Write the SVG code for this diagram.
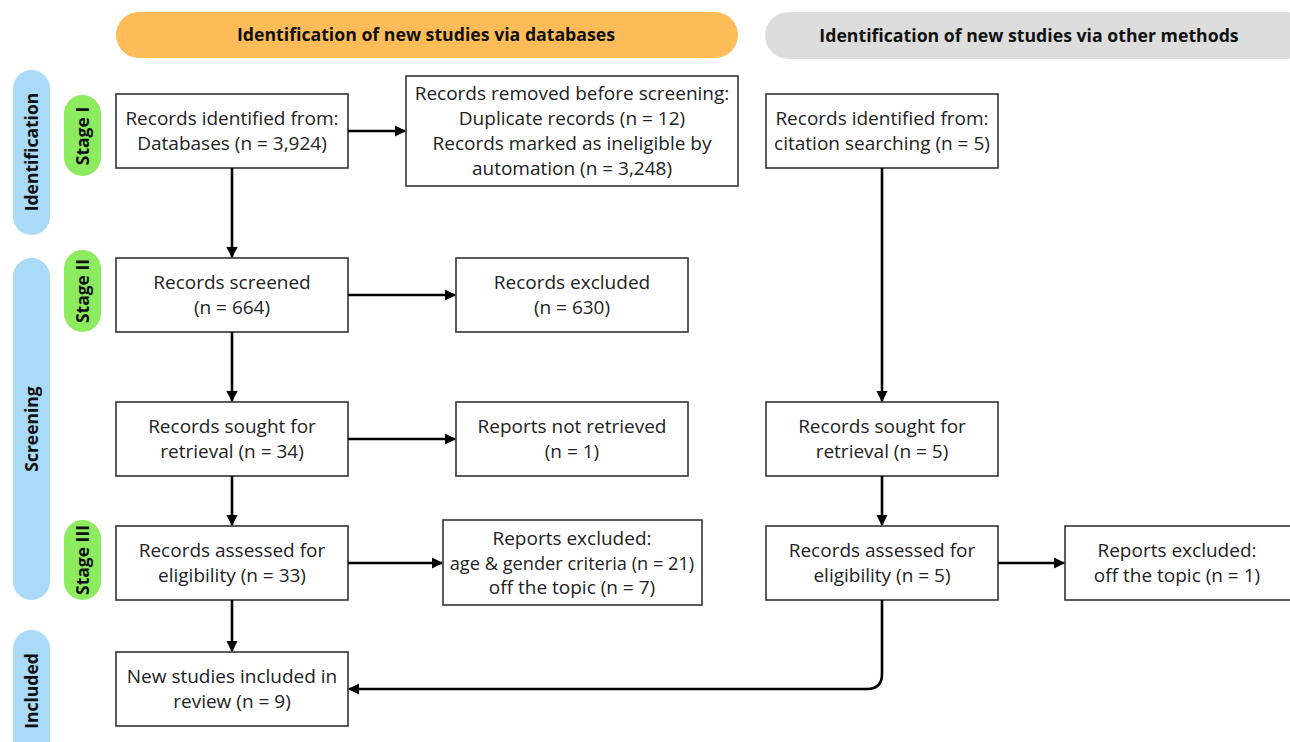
<svg xmlns="http://www.w3.org/2000/svg" width="1290" height="742" viewBox="0 0 1290 742">
<style>
.box{fill:#fff;stroke:#333;stroke-width:1.6}
.t{font-family:"Open Sans","Liberation Sans",sans-serif;font-size:19px;fill:#222;text-anchor:middle}
.h{font-family:"Open Sans","Liberation Sans",sans-serif;font-size:17.7px;font-weight:bold;fill:#111;text-anchor:middle}
.v{font-family:"Open Sans","Liberation Sans",sans-serif;font-size:17.5px;font-weight:bold;fill:#111;text-anchor:middle}
.c{fill:none;stroke:#000;stroke-width:2.6;marker-end:url(#ah)}
</style>
<defs>
<marker id="ah" viewBox="0 0 10 10" refX="9" refY="5" markerWidth="4.4" markerHeight="4.4" markerUnits="strokeWidth" orient="auto">
<path d="M0,0 L10,5 L0,10 z" fill="#000"/>
</marker>
</defs>
<rect width="1290" height="742" fill="#fff"/>
<g id="hdr-db"><rect x="116" y="12" width="622" height="46" rx="23" fill="#FDBC57"/><text class="h" x="426" y="41">Identification of new studies via databases</text></g>
<g id="hdr-other"><rect x="765" y="12" width="545" height="47" rx="23.5" fill="#DDDDDD"/><text class="h" x="1029" y="42">Identification of new studies via other methods</text></g>
<g id="phase-identification"><rect x="13" y="70" width="37" height="165" rx="18.5" fill="#A9DBF8"/><text class="v" transform="translate(38,152) rotate(-90)">Identification</text></g>
<g id="phase-screening"><rect x="13" y="258" width="37" height="342" rx="18.5" fill="#A9DBF8"/><text class="v" transform="translate(38,429) rotate(-90)">Screening</text></g>
<g id="phase-included"><rect x="13" y="630" width="37" height="140" rx="18.5" fill="#A9DBF8"/><text class="v" transform="translate(38,691) rotate(-90)">Included</text></g>
<g id="stage1"><rect x="64" y="95" width="37" height="81" rx="18.5" fill="#8CEB5E"/><text class="v" transform="translate(89,136) rotate(-90)">Stage I</text></g>
<g id="stage2"><rect x="64" y="250" width="37" height="82" rx="18.5" fill="#8CEB5E"/><text class="v" transform="translate(89,291) rotate(-90)">Stage II</text></g>
<g id="stage3"><rect x="64" y="520" width="37" height="80" rx="18.5" fill="#8CEB5E"/><text class="v" transform="translate(89,560) rotate(-90)">Stage III</text></g>
<g id="n-db"><rect class="box" x="116" y="94" width="232" height="74"/><text class="t" x="232" y="125">Records identified from:</text><text class="t" x="232" y="150">Databases (n = 3,924)</text></g>
<g id="n-removed"><rect class="box" x="406" y="76" width="332" height="110"/><text class="t" x="572" y="100">Records removed before screening:</text><text class="t" x="572" y="125">Duplicate records (n = 12)</text><text class="t" x="572" y="150">Records marked as ineligible by</text><text class="t" x="572" y="175">automation (n = 3,248)</text></g>
<g id="n-citation"><rect class="box" x="766" y="94" width="232" height="74"/><text class="t" x="882" y="125">Records identified from:</text><text class="t" x="882" y="150">citation searching (n = 5)</text></g>
<g id="n-screened"><rect class="box" x="116" y="258" width="232" height="74"/><text class="t" x="232" y="289">Records screened</text><text class="t" x="232" y="314">(n = 664)</text></g>
<g id="n-excluded"><rect class="box" x="456" y="258" width="232" height="74"/><text class="t" x="572" y="289">Records excluded</text><text class="t" x="572" y="314">(n = 630)</text></g>
<g id="n-sought"><rect class="box" x="116" y="402" width="232" height="74"/><text class="t" x="232" y="433">Records sought for</text><text class="t" x="232" y="458">retrieval (n = 34)</text></g>
<g id="n-notretrieved"><rect class="box" x="456" y="402" width="232" height="74"/><text class="t" x="572" y="433">Reports not retrieved</text><text class="t" x="572" y="458">(n = 1)</text></g>
<g id="n-sought2"><rect class="box" x="766" y="402" width="232" height="74"/><text class="t" x="882" y="433">Records sought for</text><text class="t" x="882" y="458">retrieval (n = 5)</text></g>
<g id="n-assessed"><rect class="box" x="116" y="526" width="232" height="74"/><text class="t" x="232" y="557">Records assessed for</text><text class="t" x="232" y="582">eligibility (n = 33)</text></g>
<g id="n-repexcl"><rect class="box" x="443" y="520" width="259" height="85"/><text class="t" x="572" y="545">Reports excluded:</text><text class="t" x="572" y="570" style="font-size:18.2px">age &amp; gender criteria (n = 21)</text><text class="t" x="572" y="594">off the topic (n = 7)</text></g>
<g id="n-assessed2"><rect class="box" x="766" y="526" width="232" height="74"/><text class="t" x="882" y="557">Records assessed for</text><text class="t" x="882" y="582">eligibility (n = 5)</text></g>
<g id="n-repexcl2"><rect class="box" x="1065" y="526" width="240" height="74"/><text class="t" x="1177" y="557">Reports excluded:</text><text class="t" x="1177" y="582">off the topic (n = 1)</text></g>
<g id="n-included"><rect class="box" x="116" y="652" width="232" height="74"/><text class="t" x="232" y="683">New studies included in</text><text class="t" x="232" y="708">review (n = 9)</text></g>
<g id="connectors">
<path class="c" d="M232,168 V257"/>
<path class="c" d="M232,332 V401"/>
<path class="c" d="M232,476 V525"/>
<path class="c" d="M232,600 V651"/>
<path class="c" d="M348,131 H405"/>
<path class="c" d="M348,295 H455"/>
<path class="c" d="M348,439 H455"/>
<path class="c" d="M348,563 H442"/>
<path class="c" d="M882,168 V401"/>
<path class="c" d="M882,476 V525"/>
<path class="c" d="M998,563 H1064"/>
<path class="c" d="M882,600 V674 Q882,689 867,689 H349"/>
</g>
</svg>
